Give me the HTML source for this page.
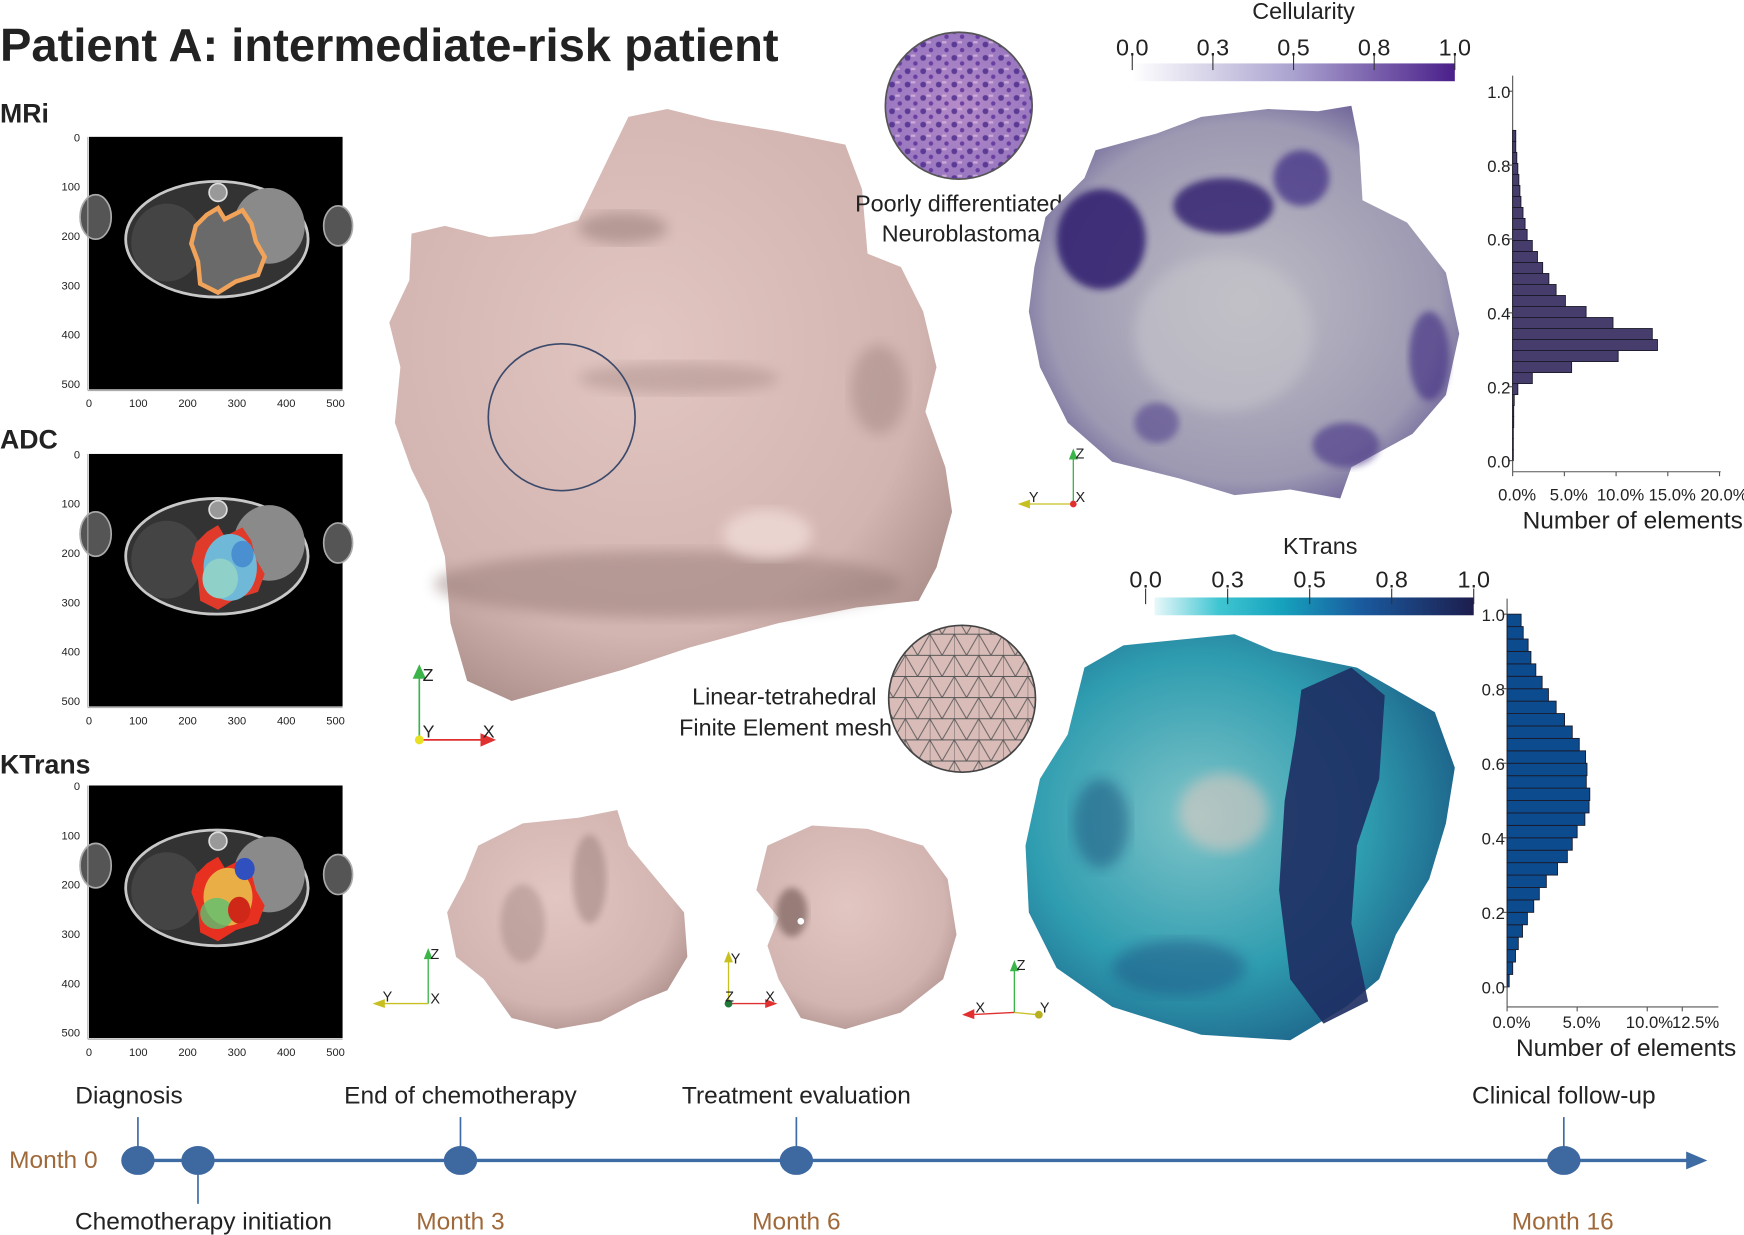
<!DOCTYPE html>
<html><head><meta charset="utf-8"><style>
html,body{margin:0;padding:0;background:#fff;}
svg{display:block;}
text{font-family:"Liberation Sans Narrow","Liberation Sans",sans-serif;}
</style></head><body>
<svg id="fig" width="1744" height="1235" viewBox="0 0 1568 1110" preserveAspectRatio="none" xmlns="http://www.w3.org/2000/svg">
<defs>
<linearGradient id="cellGrad" x1="0" x2="1"><stop offset="0" stop-color="#ffffff"/><stop offset="0.5" stop-color="#aaa2cf"/><stop offset="1" stop-color="#4a1f8a"/></linearGradient>
<linearGradient id="ktGrad" x1="0" x2="1"><stop offset="0" stop-color="#e8f8fa"/><stop offset="0.2" stop-color="#40c6d2"/><stop offset="0.4" stop-color="#16a2bd"/><stop offset="0.65" stop-color="#1a5a9e"/><stop offset="1" stop-color="#1d1d4d"/></linearGradient>
<radialGradient id="pinkGrad" cx="0.45" cy="0.4" r="0.7"><stop offset="0" stop-color="#e2c6c2"/><stop offset="0.7" stop-color="#d2b4b0"/><stop offset="1" stop-color="#a48884"/></radialGradient>
<radialGradient id="purpGrad" cx="0.5" cy="0.5" r="0.65"><stop offset="0" stop-color="#bdbcc4"/><stop offset="0.7" stop-color="#9d99b2"/><stop offset="1" stop-color="#4a3a86"/></radialGradient>
<radialGradient id="tealGrad" cx="0.4" cy="0.45" r="0.65"><stop offset="0" stop-color="#7fc4c8"/><stop offset="0.6" stop-color="#2f9db0"/><stop offset="1" stop-color="#1b5d86"/></radialGradient>
<radialGradient id="histoGrad" cx="0.5" cy="0.5" r="0.5"><stop offset="0" stop-color="#b58bc8"/><stop offset="1" stop-color="#9a78c0"/></radialGradient>
<pattern id="meshPat" width="22" height="19" patternUnits="userSpaceOnUse"><path d="M0 0L22 0L11 19Z M0 19L22 19 M0 0L0 19L11 19" fill="none" stroke="#555" stroke-width="0.8"/></pattern>
<pattern id="histoPat" width="14" height="12" patternUnits="userSpaceOnUse"><circle cx="4" cy="4" r="2.6" fill="#4a2a8a"/><circle cx="11" cy="9" r="2" fill="#5b2f99"/><rect x="7" y="1" width="4" height="2" fill="#d8b5dc"/></pattern>
<clipPath id="histoClip"><circle cx="862" cy="95" r="66"/></clipPath>
<clipPath id="meshClip"><circle cx="865" cy="628" r="66"/></clipPath>
<filter id="blur6"><feGaussianBlur stdDeviation="6"/></filter>
<filter id="blur3"><feGaussianBlur stdDeviation="3"/></filter>
<g id="bodyBase">
<rect x="0" y="0" width="228" height="227" fill="#000"/>
<ellipse cx="6" cy="72" rx="14" ry="20" fill="#555" stroke="#aaa" stroke-width="1.5"/>
<ellipse cx="224" cy="80" rx="13" ry="18" fill="#555" stroke="#aaa" stroke-width="1.5"/>
<ellipse cx="115" cy="92" rx="82" ry="52" fill="#333" stroke="#c8c8c8" stroke-width="2.5"/>
<ellipse cx="162" cy="80" rx="32" ry="34" fill="#8a8a8a"/>
<circle cx="116" cy="50" r="8" fill="#999" stroke="#ddd" stroke-width="1.5"/>
<ellipse cx="70" cy="95" rx="32" ry="35" fill="#444"/>
</g>
<path id="tumorShape" d="M106 70 L116 64 L122 74 L138 66 L146 78 L150 94 L158 108 L152 124 L132 130 L116 140 L100 132 L98 112 L92 96 L96 80 Z"/>
</defs>

<text x="0" y="55" font-size="42" font-weight="bold" textLength="700" lengthAdjust="spacingAndGlyphs" font-family="Liberation Sans, sans-serif" fill="#222">Patient A: intermediate-risk patient</text>

<text x="0" y="110" font-size="24" font-weight="bold" fill="#222">MRi</text>
<text x="0" y="403" font-size="24" font-weight="bold" fill="#222">ADC</text>
<text x="0" y="695" font-size="24" font-weight="bold" fill="#222">KTrans</text>

<g id="panels"></g>

<g>
<path d="M370 210 L400 203 L440 213 L480 210 L520 198 L548 140 L565 105 L600 98 L640 108 L700 118 L760 130 L775 170 L780 228 L810 240 L830 280 L842 330 L832 370 L850 420 L856 460 L842 510 L826 540 L770 546 L700 560 L620 582 L560 602 L460 630 L420 612 L405 560 L400 500 L385 452 L370 422 L355 380 L360 330 L350 290 L368 252 Z" fill="url(#pinkGrad)"/>
<ellipse cx="600" cy="525" rx="210" ry="30" fill="#8f7571" opacity="0.45" filter="url(#blur6)"/>
<ellipse cx="690" cy="480" rx="40" ry="22" fill="#f0dcd8" opacity="0.8" filter="url(#blur6)"/>
<ellipse cx="560" cy="205" rx="40" ry="14" fill="#8f7571" opacity="0.5" filter="url(#blur6)"/>
<ellipse cx="610" cy="340" rx="90" ry="14" fill="#9c807c" opacity="0.4" filter="url(#blur6)"/>
<ellipse cx="790" cy="350" rx="25" ry="40" fill="#9c807c" opacity="0.45" filter="url(#blur6)"/>
<circle cx="505" cy="375" r="66" fill="none" stroke="#3b4a6b" stroke-width="1.5"/>
</g>

<g>
<circle cx="862" cy="95" r="66" fill="url(#histoGrad)"/>
<rect x="790" y="25" width="145" height="140" fill="url(#histoPat)" clip-path="url(#histoClip)" opacity="0.8"/>
<circle cx="862" cy="95" r="66" fill="none" stroke="#555" stroke-width="1.5"/>
</g>
<text x="862" y="190" font-size="21" text-anchor="middle" fill="#222">Poorly differentiated</text>
<text x="864" y="217" font-size="21" text-anchor="middle" fill="#222">Neuroblastoma</text>

<g>
<circle cx="865" cy="628" r="66" fill="#d9bcb8"/>
<rect x="795" y="560" width="145" height="140" fill="url(#meshPat)" clip-path="url(#meshClip)"/>
<circle cx="865" cy="628" r="66" fill="none" stroke="#444" stroke-width="1.5"/>
</g>
<text x="788" y="633" font-size="21" text-anchor="end" fill="#222">Linear-tetrahedral</text>
<text x="802" y="661" font-size="21" text-anchor="end" fill="#222">Finite Element mesh</text>

<g>
<path d="M940 195 L975 160 L985 135 L1040 120 L1080 105 L1140 98 L1185 100 L1215 95 L1222 130 L1225 180 L1265 200 L1300 245 L1312 300 L1300 355 L1270 390 L1215 420 L1205 448 L1160 440 L1110 445 L1060 430 L1000 415 L960 380 L935 330 L925 280 L930 240 Z" fill="url(#purpGrad)"/>
<ellipse cx="990" cy="215" rx="40" ry="45" fill="#2e1d6e" opacity="0.85" filter="url(#blur3)"/>
<ellipse cx="1100" cy="185" rx="45" ry="25" fill="#2e1d6e" opacity="0.8" filter="url(#blur3)"/>
<ellipse cx="1170" cy="160" rx="25" ry="25" fill="#3c2a84" opacity="0.7" filter="url(#blur3)"/>
<ellipse cx="1285" cy="320" rx="18" ry="40" fill="#3a2680" opacity="0.6" filter="url(#blur3)"/>
<ellipse cx="1210" cy="400" rx="30" ry="20" fill="#3a2680" opacity="0.55" filter="url(#blur3)"/>
<ellipse cx="1040" cy="380" rx="20" ry="18" fill="#3a2680" opacity="0.45" filter="url(#blur3)"/>
<ellipse cx="1100" cy="300" rx="80" ry="70" fill="#c5c4ca" opacity="0.6" filter="url(#blur6)"/>
</g>

<g>
<path d="M975 600 L1010 580 L1060 575 L1110 570 L1145 585 L1220 600 L1290 640 L1308 690 L1300 740 L1285 790 L1255 840 L1240 880 L1210 905 L1160 935 L1080 930 L1000 905 L950 870 L925 820 L922 760 L935 700 L960 660 Z" fill="url(#tealGrad)"/>
<path d="M1170 620 L1215 600 L1245 625 L1240 700 L1220 760 L1215 830 L1230 900 L1190 920 L1160 880 L1150 800 L1155 720 L1165 660 Z" fill="#1e2d63" opacity="0.9"/>
<ellipse cx="1100" cy="730" rx="40" ry="35" fill="#d8c8c0" opacity="0.6" filter="url(#blur6)"/>
<ellipse cx="990" cy="740" rx="25" ry="40" fill="#174f7c" opacity="0.5" filter="url(#blur6)"/>
<ellipse cx="1060" cy="870" rx="60" ry="25" fill="#1b4c80" opacity="0.45" filter="url(#blur6)"/>
</g>

<g>
<path d="M430 760 L470 740 L520 735 L555 728 L565 760 L590 790 L615 820 L618 860 L600 890 L575 900 L540 918 L500 925 L460 915 L435 880 L410 860 L402 820 L418 790 Z" fill="url(#pinkGrad)"/>
<ellipse cx="530" cy="790" rx="15" ry="40" fill="#8f7571" opacity="0.45" filter="url(#blur3)"/>
<ellipse cx="470" cy="830" rx="20" ry="35" fill="#8f7571" opacity="0.35" filter="url(#blur3)"/>
</g>
<g>
<path d="M690 760 L730 742 L780 745 L830 760 L852 790 L860 840 L848 880 L810 910 L760 925 L720 915 L700 880 L690 850 L700 825 L680 800 L685 780 Z" fill="url(#pinkGrad)"/>
<ellipse cx="712" cy="820" rx="14" ry="22" fill="#6c5350" opacity="0.6" filter="url(#blur3)"/>
<circle cx="720" cy="828" r="3" fill="#fff"/>
</g>

<g font-size="16">
<line x1="377" y1="665" x2="377" y2="602" stroke="#3bb54a" stroke-width="1.5"/><path d="M371 610 L377 597 L383 610Z" fill="#3bb54a"/>
<line x1="377" y1="665" x2="437" y2="665" stroke="#e03030" stroke-width="1.5"/><path d="M432 659 L446 665 L432 671Z" fill="#e03030"/>
<circle cx="377" cy="665" r="4" fill="#e8e020"/>
<text x="380" y="612" fill="#222">Z</text><text x="380" y="663" fill="#222">Y</text><text x="434" y="663" fill="#222">X</text>
</g>
<g font-size="13">
<line x1="965" y1="453" x2="965" y2="407" stroke="#3bb54a" stroke-width="1.2"/><path d="M961 413 L965 403 L969 413Z" fill="#3bb54a"/>
<line x1="965" y1="453" x2="922" y2="453" stroke="#c8c020" stroke-width="1.2"/><path d="M926 449 L915 453 L926 457Z" fill="#c8c020"/>
<circle cx="965" cy="453" r="3" fill="#e03030"/>
<text x="967" y="412" fill="#222">Z</text><text x="925" y="451" fill="#222">Y</text><text x="967" y="451" fill="#222">X</text>
</g>
<g font-size="13">
<line x1="385" y1="902" x2="385" y2="857" stroke="#3bb54a" stroke-width="1.2"/><path d="M381 862 L385 852 L389 862Z" fill="#3bb54a"/>
<line x1="385" y1="902" x2="342" y2="902" stroke="#c8c020" stroke-width="1.2"/><path d="M346 898 L335 902 L346 906Z" fill="#c8c020"/>
<text x="387" y="862" fill="#222">Z</text><text x="344" y="900" fill="#222">Y</text><text x="387" y="902" fill="#222">X</text>
</g>
<g font-size="13">
<line x1="655" y1="902" x2="655" y2="860" stroke="#c8c020" stroke-width="1.2"/><path d="M651 865 L655 855 L659 865Z" fill="#c8c020"/>
<line x1="655" y1="902" x2="692" y2="902" stroke="#e03030" stroke-width="1.2"/><path d="M688 898 L699 902 L688 906Z" fill="#e03030"/>
<circle cx="655" cy="902" r="3.5" fill="#1f7a3a"/>
<text x="657" y="866" fill="#222">Y</text><text x="652" y="900" fill="#222">Z</text><text x="688" y="900" fill="#222">X</text>
</g>
<g font-size="13">
<line x1="912" y1="910" x2="912" y2="868" stroke="#3bb54a" stroke-width="1.2"/><path d="M908 873 L912 863 L916 873Z" fill="#3bb54a"/>
<line x1="912" y1="910" x2="872" y2="912" stroke="#e03030" stroke-width="1.2"/><path d="M876 907 L865 912 L876 916Z" fill="#e03030"/>
<line x1="912" y1="910" x2="933" y2="912" stroke="#c8c020" stroke-width="1.2"/><circle cx="934" cy="912" r="3.5" fill="#b8b020"/>
<text x="914" y="872" fill="#222">Z</text><text x="877" y="910" fill="#222">X</text><text x="935" y="910" fill="#222">Y</text>
</g>

<text x="1172" y="17" font-size="21" text-anchor="middle" fill="#222">Cellularity</text>
<rect x="1018" y="57" width="290" height="16" fill="url(#cellGrad)"/>
<g id="cellTicks"></g>
<text x="1187" y="498" font-size="21" text-anchor="middle" fill="#222">KTrans</text>
<rect x="1038" y="537" width="287" height="16" fill="url(#ktGrad)"/>
<g id="ktTicks"></g>

<g id="hist1"></g>
<g id="hist2"></g>
<g id="timeline"></g>

<script>
const cellBinWidth = 0.0298;
const cellCounts = [0.05,0.05,0.05,0.1,0.1,0.15,0.5,1.9,5.7,10.2,14.0,13.5,9.7,7.1,5.1,4.2,3.5,2.9,2.4,1.9,1.4,1.2,1.0,0.8,0.7,0.6,0.5,0.4,0.3,0.3];
const cellYTicks = [0.0,0.2,0.4,0.6,0.8,1.0];
const cellXTicks = [0,5,10,15,20];
const ktBinWidth = 1/30;
const ktCounts = [0.15,0.4,0.6,0.8,1.1,1.45,1.9,2.3,2.8,3.6,4.3,4.65,5.0,5.55,5.85,5.9,5.65,5.7,5.6,5.15,4.65,4.1,3.5,2.95,2.5,2.05,1.7,1.5,1.15,1.0];
const ktYTicks = [0.0,0.2,0.4,0.6,0.8,1.0];
const ktXTicks = [0,5,10,12.5];
const colorbarTicks = [0.0,0.25,0.5,0.75,1.0];
const colorbarLabels = ["0.0","0.3","0.5","0.8","1.0"];
const tlMonths = ["Month 0","Month 3","Month 6","Month 16"];
const tlEvents = ["Diagnosis","Chemotherapy initiation","End of chemotherapy","Treatment evaluation","Clinical follow-up"];
const mriTicks = [0,100,200,300,400,500];

const NS = "http://www.w3.org/2000/svg";
function mk(tag, attrs, parent){const e=document.createElementNS(NS,tag);for(const k in attrs)e.setAttribute(k,attrs[k]);parent.appendChild(e);return e;}

function histogram(g, counts, bw, yTicks, xTicks, ax, fill, name, xLabY, labShift){
  const yS = v => ax.y0 - v*(ax.y0-ax.y1);
  const xS = p => ax.x0 + p*ax.px;
  mk('line',{x1:ax.x0,y1:ax.top,x2:ax.x0,y2:ax.base,stroke:'#555','stroke-width':1},g);
  mk('line',{x1:ax.x0,y1:ax.base,x2:ax.xend,y2:ax.base,stroke:'#555','stroke-width':1},g);
  counts.forEach((c,i)=>{
    const r = mk('rect',{x:ax.x0,y:yS((i+1)*bw),width:Math.max(xS(c)-ax.x0,0.6),height:yS(i*bw)-yS((i+1)*bw),fill:fill,stroke:'#1a1a2a','stroke-width':0.8},g);
    
    
  });
  yTicks.forEach(t=>{
    mk('line',{x1:ax.x0-4,y1:yS(t),x2:ax.x0,y2:yS(t),stroke:'#555'},g);
    const tx = mk('text',{x:ax.x0-2,y:yS(t)+6,'font-size':15,'text-anchor':'end',fill:'#222'},g);
    tx.textContent = t.toFixed(1);
    
    
  });
  xTicks.forEach((t,i)=>{
    mk('line',{x1:xS(t),y1:ax.base,x2:xS(t),y2:ax.base+4,stroke:'#555'},g);
    const tx = mk('text',{x:xS(t)+4+(labShift?labShift[i]:0),y:xLabY,'font-size':15,'text-anchor':'middle',fill:'#222'},g);
    tx.textContent = t.toFixed(1)+'%';
    
    
  });
  const tt = mk('text',{x:ax.titleX,y:xLabY+25,'font-size':22,'text-anchor':'middle',fill:'#222'},g);
  tt.textContent = 'Number of elements';
  
  
}
const h1 = document.getElementById('hist1');


histogram(h1, cellCounts, cellBinWidth, cellYTicks, cellXTicks, {x0:1360,y0:414,y1:82,px:9.3,top:68,base:424,xend:1547,titleX:1468}, '#463d6c', 'cellularity-hist', 450, null);
const h2 = document.getElementById('hist2');


histogram(h2, ktCounts, ktBinWidth, ktYTicks, ktXTicks, {x0:1355,y0:887,y1:552,px:12.6,top:538,base:905,xend:1545,titleX:1462}, '#0c4b8e', 'ktrans-hist', 924, [0,0,-2,8]);

function cbTicks(g, x0, w, yBar, yLab, name){
  colorbarTicks.forEach((t,i)=>{
    const x = x0 + t*w;
    mk('line',{x1:x,y1:yBar-8,x2:x,y2:yBar+6,stroke:'#333','stroke-width':1},g);
    const tx = mk('text',{x:x,y:yLab,'font-size':21,'text-anchor':'middle',fill:'#222'},g);
    tx.textContent = colorbarLabels[i];
    
    
  });
}
cbTicks(document.getElementById('cellTicks'), 1018, 290, 57, 50, 'cellularity-colorbar');
cbTicks(document.getElementById('ktTicks'), 1030, 295, 537, 528, 'ktrans-colorbar');

const panels = document.getElementById('panels');
[{y:123,type:'mri'},{y:408,type:'adc'},{y:706,type:'kt'}].forEach(p=>{
  const g = mk('g',{transform:'translate(80,'+p.y+')'},panels);
  
  
  mk('use',{href:'#bodyBase'},g);
  if(p.type==='mri'){
    mk('use',{href:'#tumorShape',fill:'#6a6a6a'},g);
    mk('use',{href:'#tumorShape',fill:'none',stroke:'#f2a35a','stroke-width':4},g);
  } else if(p.type==='adc'){
    mk('use',{href:'#tumorShape',fill:'#e03a2a'},g);
    mk('ellipse',{cx:127,cy:102,rx:24,ry:30,fill:'#6fb8d8'},g);
    mk('ellipse',{cx:118,cy:112,rx:16,ry:18,fill:'#8fd0c8'},g);
    mk('ellipse',{cx:138,cy:90,rx:10,ry:12,fill:'#4a8fd0'},g);
  } else {
    mk('use',{href:'#tumorShape',fill:'#e83020'},g);
    mk('ellipse',{cx:125,cy:100,rx:22,ry:26,fill:'#e8d050',opacity:0.8},g);
    mk('ellipse',{cx:115,cy:115,rx:15,ry:14,fill:'#5cc070',opacity:0.8},g);
    mk('ellipse',{cx:140,cy:75,rx:9,ry:10,fill:'#3050c0'},g);
    mk('ellipse',{cx:135,cy:112,rx:10,ry:12,fill:'#d02818'},g);
  }
  mk('line',{x1:-1,y1:0,x2:-1,y2:228,stroke:'#aaa'},g);
  mk('line',{x1:-1,y1:228,x2:228,y2:228,stroke:'#aaa'},g);
  mriTicks.forEach(t=>{
    const v = t/512*227;
    const ty = mk('text',{x:-8,y:v+4,'font-size':10,'text-anchor':'end',fill:'#222'},g);
    ty.textContent = t;
    
    
    const tx = mk('text',{x:v,y:243,'font-size':10,'text-anchor':'middle',fill:'#222'},g);
    tx.textContent = t;
    
    
  });
});

const tl = document.getElementById('timeline');


mk('line',{x1:110,y1:1043,x2:1522,y2:1043,stroke:'#3d6ba3','stroke-width':3},tl);
mk('path',{d:'M1516 1035 L1535 1043 L1516 1051 Z',fill:'#3d6ba3'},tl);
const evX = [124,178,414,716,1406];
const evUp = [true,false,true,true,true];
tlEvents.forEach((ev,i)=>{
  const x = evX[i];
  if(evUp[i]) mk('line',{x1:x,y1:1004,x2:x,y2:1032,stroke:'#3d6ba3','stroke-width':1.5},tl);
  else mk('line',{x1:x,y1:1054,x2:x,y2:1082,stroke:'#3d6ba3','stroke-width':1.5},tl);
  const d = mk('ellipse',{cx:x,cy:1043,rx:15,ry:13,fill:'#3d68a0'},tl);
  
  
  const t = mk('text',{x:i===0?116:(i===1?183:x),y:evUp[i]?992:1105,'font-size':22,'text-anchor':'middle',fill:'#222'},tl);
  t.textContent = ev;
  
  
});
const mX = [48,414,716,1405];
const mY = [1050,1105,1105,1105];
tlMonths.forEach((m,i)=>{
  const t = mk('text',{x:mX[i],y:mY[i],'font-size':22,'text-anchor':'middle',fill:'#a0693a'},tl);
  t.textContent = m;
  
  
});
</script>
</svg>
</body></html>
